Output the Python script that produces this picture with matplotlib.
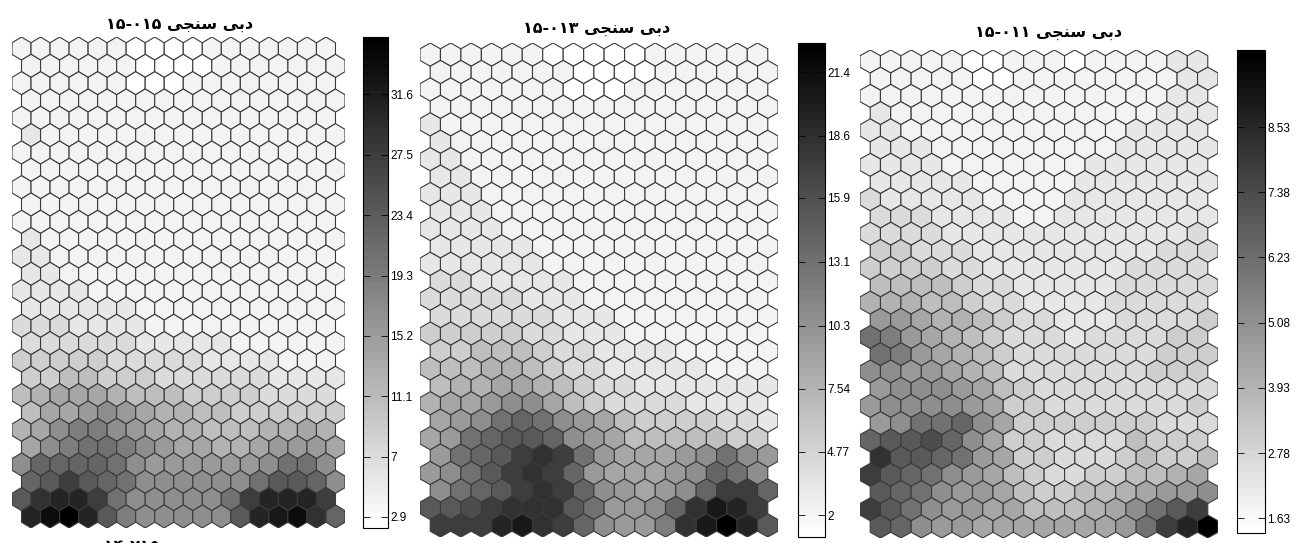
import numpy as np
import matplotlib
matplotlib.use("Agg")
import matplotlib.pyplot as plt
from matplotlib.collections import PolyCollection
from matplotlib.colors import Normalize

plt.rcParams['font.family'] = ['Liberation Sans', 'DejaVu Sans']

# SOM grid: 17 columns x 28 rows, odd rows shifted right by half a hex
n_cols = 17
n_rows = 28

# panel titles (visual order, pre-shaped Persian)
titles = ["۱۵-۰۱۵ ﯽﺠﻨﺳ ﯽﺑﺩ", "۱۵-۰۱۳ ﯽﺠﻨﺳ ﯽﺑﺩ", "۱۵-۰۱۱ ﯽﺠﻨﺳ ﯽﺑﺩ"]
cut_title = "۱۴-۲۱۵ ﯽﺠﻨﺳ ﯽﺑﺩ"

# colorbar limits and ticks
lims = [(2.15, 35.5), (1.04, 22.67), (1.37, 9.89)]
ticks = [[2.9, 7, 11.1, 15.2, 19.3, 23.4, 27.5, 31.6],
         [2, 4.77, 7.54, 10.3, 13.1, 15.9, 18.6, 21.4],
         [1.63, 2.78, 3.93, 5.08, 6.23, 7.38, 8.53]]
tick_labels = [["2.9", "7", "11.1", "15.2", "19.3", "23.4", "27.5", "31.6"],
               ["2", "4.77", "7.54", "10.3", "13.1", "15.9", "18.6", "21.4"],
               ["1.63", "2.78", "3.93", "5.08", "6.23", "7.38", "8.53"]]

# darkness of each unit, 0 (white) .. 20 (black), row by row from the top
shade1 = [
    [1, 1, 1, 1, 1, 1, 0, 0, 0, 0, 1, 1, 1, 1, 1, 1, 1],
    [1, 1, 1, 1, 1, 1, 0, 0, 0, 0, 1, 1, 1, 1, 1, 1, 1],
    [1, 1, 1, 1, 1, 1, 0, 0, 0, 1, 1, 1, 1, 1, 1, 1, 1],
    [1, 1, 1, 1, 1, 1, 1, 1, 1, 1, 1, 1, 1, 1, 1, 1, 1],
    [1, 1, 1, 1, 1, 1, 1, 1, 1, 1, 1, 1, 1, 1, 1, 1, 1],
    [2, 1, 1, 1, 1, 1, 1, 1, 1, 1, 1, 1, 1, 1, 1, 1, 1],
    [1, 1, 1, 1, 1, 1, 1, 1, 1, 1, 1, 1, 1, 1, 1, 1, 1],
    [1, 1, 1, 1, 1, 1, 1, 1, 1, 1, 1, 1, 1, 1, 1, 1, 1],
    [1, 1, 1, 1, 1, 1, 1, 1, 1, 1, 1, 1, 1, 1, 1, 1, 1],
    [1, 1, 1, 1, 1, 1, 1, 1, 1, 1, 1, 1, 1, 1, 1, 1, 1],
    [1, 1, 1, 1, 1, 1, 1, 1, 1, 1, 1, 1, 1, 1, 1, 1, 1],
    [2, 1, 1, 1, 1, 1, 1, 1, 1, 1, 1, 1, 1, 1, 1, 1, 1],
    [2, 2, 1, 1, 1, 1, 1, 1, 1, 1, 1, 1, 1, 1, 1, 1, 1],
    [2, 2, 1, 1, 1, 1, 1, 1, 1, 1, 1, 1, 1, 1, 1, 1, 1],
    [2, 2, 2, 2, 1, 1, 1, 1, 1, 1, 1, 1, 1, 1, 1, 1, 1],
    [2, 2, 2, 2, 2, 2, 1, 1, 1, 1, 1, 1, 1, 1, 1, 1, 1],
    [3, 3, 3, 2, 2, 2, 2, 1, 1, 1, 1, 1, 1, 1, 1, 1, 1],
    [3, 3, 3, 3, 3, 3, 2, 2, 2, 2, 2, 1, 1, 1, 1, 1, 1],
    [4, 4, 4, 4, 4, 3, 3, 3, 3, 3, 2, 2, 2, 2, 1, 1, 1],
    [4, 4, 5, 5, 4, 4, 4, 3, 3, 3, 3, 3, 3, 2, 2, 2, 2],
    [5, 6, 7, 7, 7, 6, 5, 5, 5, 4, 4, 4, 4, 3, 3, 3, 3],
    [5, 7, 7, 8, 9, 8, 7, 6, 6, 5, 5, 4, 4, 4, 4, 4, 4],
    [6, 7, 9, 10, 10, 9, 8, 7, 6, 6, 5, 5, 5, 6, 6, 7, 6],
    [7, 9, 10, 11, 11, 10, 9, 8, 7, 7, 6, 6, 7, 8, 8, 8, 7],
    [9, 12, 12, 12, 12, 11, 9, 8, 8, 8, 8, 8, 8, 9, 11, 11, 9],
    [12, 13, 15, 13, 12, 11, 9, 9, 9, 9, 9, 9, 11, 13, 13, 12, 9],
    [13, 16, 17, 17, 15, 11, 9, 9, 9, 9, 9, 11, 15, 17, 17, 17, 15],
    [17, 19, 20, 17, 13, 10, 9, 9, 9, 9, 9, 13, 17, 18, 19, 16, 12],
]

shade2 = [
    [1, 1, 1, 1, 1, 1, 0, 0, 0, 0, 0, 1, 1, 1, 1, 1, 1],
    [1, 1, 1, 1, 1, 1, 1, 0, 0, 0, 0, 1, 1, 1, 1, 1, 1],
    [1, 1, 1, 1, 1, 1, 1, 0, 0, 0, 1, 1, 1, 1, 1, 1, 1],
    [1, 1, 1, 1, 1, 1, 1, 1, 1, 1, 1, 1, 1, 1, 1, 1, 1],
    [2, 1, 1, 1, 1, 1, 1, 1, 1, 1, 1, 1, 1, 1, 1, 1, 1],
    [2, 1, 1, 1, 1, 1, 1, 1, 1, 1, 1, 1, 1, 1, 1, 1, 1],
    [2, 2, 1, 1, 1, 1, 1, 1, 1, 1, 1, 1, 1, 1, 1, 1, 1],
    [2, 2, 1, 1, 1, 1, 1, 1, 1, 1, 1, 1, 1, 1, 1, 1, 1],
    [2, 2, 2, 1, 1, 1, 1, 1, 1, 1, 1, 1, 1, 1, 1, 1, 1],
    [2, 2, 2, 1, 1, 1, 1, 1, 1, 1, 1, 1, 1, 1, 1, 1, 1],
    [2, 2, 2, 2, 1, 1, 1, 1, 1, 1, 1, 1, 1, 1, 1, 1, 1],
    [2, 2, 2, 2, 2, 1, 1, 1, 1, 1, 1, 1, 1, 1, 1, 1, 1],
    [2, 2, 2, 2, 2, 2, 1, 1, 1, 1, 1, 1, 1, 1, 1, 1, 1],
    [3, 3, 2, 2, 2, 2, 2, 1, 1, 1, 1, 1, 1, 1, 1, 1, 1],
    [3, 3, 3, 3, 3, 2, 2, 2, 1, 1, 1, 1, 1, 1, 1, 1, 1],
    [3, 3, 3, 3, 3, 3, 2, 2, 2, 1, 1, 1, 1, 1, 1, 1, 1],
    [4, 4, 4, 4, 4, 3, 3, 2, 2, 2, 1, 1, 1, 1, 1, 1, 1],
    [4, 4, 5, 5, 5, 4, 3, 3, 2, 2, 2, 2, 1, 1, 1, 1, 1],
    [5, 5, 5, 6, 6, 5, 4, 3, 3, 2, 2, 2, 2, 2, 1, 1, 1],
    [5, 6, 6, 7, 7, 6, 5, 4, 3, 3, 2, 2, 2, 2, 2, 2, 2],
    [6, 7, 7, 8, 9, 9, 7, 5, 4, 3, 3, 3, 3, 2, 2, 2, 2],
    [7, 8, 9, 11, 12, 11, 9, 8, 7, 5, 4, 4, 4, 4, 3, 3, 2],
    [7, 8, 11, 12, 13, 13, 12, 9, 8, 7, 5, 5, 5, 5, 5, 4, 4],
    [8, 11, 12, 13, 15, 16, 15, 11, 8, 7, 7, 7, 8, 9, 11, 9, 8],
    [8, 9, 11, 13, 15, 16, 15, 12, 8, 7, 7, 7, 8, 9, 12, 11, 9],
    [9, 11, 12, 13, 15, 16, 15, 12, 9, 8, 7, 8, 9, 12, 15, 15, 12],
    [13, 13, 14, 15, 16, 16, 16, 13, 11, 8, 8, 9, 12, 16, 18, 17, 15],
    [15, 15, 15, 17, 18, 16, 15, 12, 9, 8, 8, 10, 16, 18, 20, 17, 13],
]

shade3 = [
    [1, 1, 1, 1, 1, 0, 0, 1, 1, 1, 0, 1, 1, 1, 1, 2, 2],
    [1, 1, 1, 1, 1, 0, 0, 1, 1, 1, 1, 1, 1, 1, 1, 2, 2],
    [1, 1, 1, 1, 1, 1, 1, 1, 1, 1, 1, 1, 1, 1, 1, 2, 2],
    [2, 1, 1, 1, 1, 1, 1, 1, 1, 1, 1, 1, 1, 1, 2, 2, 2],
    [2, 2, 1, 1, 1, 1, 1, 1, 1, 1, 1, 1, 1, 2, 2, 2, 2],
    [2, 2, 2, 1, 1, 1, 1, 1, 1, 1, 1, 1, 2, 2, 2, 2, 2],
    [2, 2, 2, 2, 1, 1, 1, 1, 1, 1, 1, 2, 2, 2, 2, 2, 2],
    [2, 2, 2, 2, 2, 1, 1, 1, 1, 1, 2, 2, 2, 2, 2, 2, 2],
    [3, 2, 2, 2, 2, 2, 1, 1, 1, 1, 2, 2, 2, 2, 2, 2, 2],
    [3, 3, 3, 2, 2, 2, 2, 1, 1, 2, 2, 2, 2, 2, 2, 2, 2],
    [3, 3, 3, 3, 2, 2, 2, 2, 2, 2, 2, 2, 2, 2, 2, 2, 3],
    [4, 4, 3, 3, 3, 2, 2, 2, 2, 2, 2, 2, 2, 2, 3, 3, 3],
    [4, 4, 4, 4, 3, 3, 2, 2, 2, 2, 2, 2, 2, 3, 3, 3, 3],
    [5, 5, 5, 5, 4, 3, 3, 2, 2, 2, 2, 2, 3, 3, 3, 3, 3],
    [6, 6, 6, 5, 5, 4, 3, 3, 2, 2, 2, 2, 3, 3, 3, 3, 3],
    [8, 8, 7, 6, 6, 5, 4, 3, 3, 2, 2, 2, 3, 3, 3, 3, 4],
    [11, 10, 8, 7, 6, 5, 4, 3, 3, 3, 2, 3, 3, 3, 3, 4, 4],
    [11, 10, 8, 7, 6, 5, 4, 3, 3, 3, 3, 3, 3, 3, 4, 4, 4],
    [9, 9, 8, 8, 7, 6, 5, 3, 3, 3, 3, 3, 3, 3, 4, 4, 4],
    [8, 9, 9, 9, 8, 7, 5, 4, 3, 3, 3, 3, 3, 3, 3, 3, 3],
    [8, 9, 9, 9, 9, 8, 7, 4, 4, 3, 3, 3, 3, 3, 3, 3, 4],
    [8, 9, 11, 11, 12, 9, 7, 4, 4, 4, 4, 4, 4, 4, 3, 3, 3],
    [12, 13, 13, 14, 12, 9, 7, 4, 4, 3, 3, 3, 3, 5, 4, 4, 4],
    [16, 13, 13, 12, 11, 8, 7, 4, 4, 3, 3, 3, 4, 5, 4, 4, 5],
    [15, 13, 12, 11, 9, 8, 7, 5, 4, 3, 3, 4, 4, 5, 5, 6, 7],
    [13, 12, 11, 9, 8, 8, 7, 5, 4, 4, 5, 5, 6, 7, 8, 8, 9],
    [15, 13, 11, 9, 8, 8, 7, 7, 5, 5, 5, 6, 7, 9, 11, 13, 15],
    [13, 12, 9, 8, 8, 7, 7, 7, 7, 7, 7, 7, 8, 11, 15, 17, 20],
]
shades = [shade1, shade2, shade3]

# panel boxes in figure fraction [left, bottom, width, height]
W, H = 1301, 543
def box(x0, y0, x1, y1):
    return [x0 / W, 1 - y1 / H, (x1 - x0) / W, (y1 - y0) / H]

ax_boxes = [box(12, 37, 345, 528), box(420, 43, 778, 537), box(860, 50, 1218, 538)]
cb_boxes = [box(363, 37, 388, 528), box(798, 43, 825, 537), box(1237, 50, 1265, 533)]
title_xy = [(180, 24), (597, 29), (1049, 33)]

# hexagon outline (pointy top), unit spacing between columns
t = 1 / np.sqrt(3)
ang = np.deg2rad([90, 30, -30, -90, -150, 150])
hx = np.cos(ang) * t
hy = np.sin(ang) * t

polys = []
for r in range(n_rows):
    for c in range(n_cols):
        cx = c + 0.5 * (r % 2)
        cy = -1.5 * t * r
        polys.append(np.column_stack([cx + hx, cy + hy]))

cmap = plt.get_cmap('gray_r', 64)

fig = plt.figure(figsize=(13.01, 5.43), dpi=100)

for i in range(3):
    lo, hi = lims[i]
    vals = lo + (hi - lo) * np.array(shades[i], dtype=float).ravel() / 20.0
    ax = fig.add_axes(ax_boxes[i])
    pc = PolyCollection(polys, array=vals, cmap=cmap, norm=Normalize(lo, hi),
                        edgecolors='#3a3a3a', linewidths=0.8)
    ax.add_collection(pc)
    ax.set_xlim(-0.5, n_cols)
    ax.set_ylim(-1.5 * t * (n_rows - 1) - t, t)
    ax.axis('off')

    cax = fig.add_axes(cb_boxes[i])
    cb = fig.colorbar(pc, cax=cax, ticks=ticks[i])
    cb.set_ticklabels(tick_labels[i])
    cb.outline.set_linewidth(0.8)
    cax.tick_params(left=True, right=True, labelleft=False, labelright=True,
                    direction='in', length=5, width=0.6, pad=1.5, labelsize=8.5)

    tx, ty = title_xy[i]
    fig.text(tx / W, 1 - ty / H, titles[i], ha='center', va='center',
             fontsize=11.5, fontweight='bold', family='DejaVu Sans')

# title of the next row of panels, cut by the figure edge
fig.text(178 / W, 1 - 546 / H, cut_title, ha='center', va='center',
         fontsize=11.5, fontweight='bold', family='DejaVu Sans')

fig.savefig('out.png', dpi=100)
